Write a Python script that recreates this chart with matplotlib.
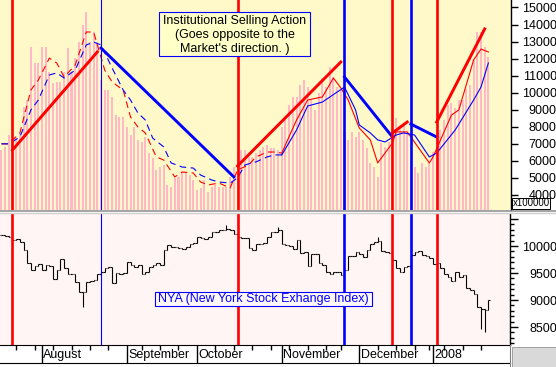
import numpy as np
import pandas as pd
import matplotlib
matplotlib.use("Agg")
import matplotlib.pyplot as plt
from matplotlib.lines import Line2D
from matplotlib.patches import Rectangle
import matplotlib.transforms as mtransforms

plt.rcParams['font.family'] = ['Liberation Sans', 'DejaVu Sans']

# trading days 17 Jul 2007 .. 24 Jan 2008
holidays = pd.to_datetime(["2007-09-03", "2007-11-22", "2007-12-25", "2008-01-01", "2008-01-21"])
dates = pd.bdate_range("2007-07-17", "2008-01-24")
dates = dates[~dates.isin(holidays)]
days = np.arange(len(dates))

# NYSE volume (x100000)
volume = [6640, 6815, 7520, 7050, 7340, 7640, 9160, 9570, 12680, 11740,
          11740, 12680, 12680, 11210, 10570, 10630, 10630, 11210, 12620, 11210,
          12030, 12970, 13970, 14730, 12970, 13560, 12970, 10740, 10160, 10160,
          9750, 8690, 8570, 8570, 7990, 7520, 7990, 7230, 7110, 7400,
          6460, 6170, 5470, 5640, 5760, 4590, 4470, 5000, 5060, 5350,
          5350, 5170, 4880, 4290, 4410, 4880, 4180, 4470, 4590, 4470,
          4470, 4470, 5060, 5640, 6520, 6640, 6640, 6230, 6230, 6460,
          6640, 6815, 6930, 6760, 6760, 6640, 7990, 8570, 9280, 9750,
          9750, 10450, 10740, 10330, 9570, 8990, 9980, 10860, 10330, 11510,
          10920, 10330, 10160, 7700, 7230, 7700, 7400, 7700, 7230, 6760,
          5880, 5640, 5060, 7050, 6820, 7110, 7640, 8510, 7990, 8110,
          7640, 6050, 5640, 5290, 5880, 5640, 5880, 6520, 7230, 7810,
          8400, 9280, 9400, 9100, 9570, 9570, 10220, 10450, 11920, 13560,
          13560, 12680, 12090]

# NYA closes
closes = [10200, 10185, 10167, 10110, 10130, 10075, 9925, 9685, 9555, 9630,
          9665, 9555, 9650, 9630, 9390, 9555, 9760, 9590, 9480, 9480,
          9333, 9150, 9150, 9333, 9350, 9370, 9480, 9520, 9590, 9610,
          9315, 9500, 9480, 9500, 9700, 9650, 9610, 9650, 9480, 9520,
          9610, 9650, 9685, 9650, 9925, 10020, 9980, 9980, 9963, 9944,
          9980, 10037, 10055, 10167, 10148, 10130, 10167, 10260, 10260, 10296,
          10296, 10315, 10296, 10222, 10167, 10148, 10148, 9963, 9925, 10037,
          10037, 10055, 10167, 10260, 10260, 10296, 10037, 10020, 10000, 9944,
          10111, 9870, 9890, 9630, 9850, 9850, 9685, 9650, 9520, 9480,
          9520, 9520, 9463, 9555, 9815, 9815, 9890, 9850, 9796, 9925,
          10037, 10075, 10093, 9907, 9890, 9870, 9740, 9590, 9520, 9610,
          9630, 9833, 9890, 9907, 9833, 9815, 9778, 9667, 9685, 9590,
          9480, 9426, 9352, 9520, 9426, 9463, 9222, 9185, 9111, 8870,
          8833, 8815, 9000]
wick_lows = {22: 8870, 130: 8463, 131: 8407}
wick_highs = {61: 10390, 75: 10350, 102: 10167}

# volume moving averages (read points)
red_days = [0, 2, 5, 8, 10, 13, 15, 17, 20, 23, 25, 28, 30, 33, 35, 37, 39, 42, 44, 47,
            49, 52, 54, 56, 59, 62, 64, 67, 69, 72, 74, 76, 80, 83, 87, 90, 92, 94,
            97, 100, 102, 106, 107, 110, 116, 117, 122, 124, 128, 130, 132]
red_ma = [7000, 7000, 7640, 10160, 10740, 12030, 11740, 10920, 11620, 13560, 13560,
          11330, 10630, 10160, 8570, 7990, 7640, 6230, 6050, 5060, 5350, 5290, 4760,
          4590, 4700, 4410, 5470, 5760, 6230, 6520, 6520, 6460, 8400, 9570, 9750,
          10860, 10280, 9570, 7930, 7230, 5880, 7050, 7700, 7700, 5880, 6230, 8690,
          8990, 11920, 12560, 12390]
blue_days = [0, 2, 5, 8, 10, 13, 15, 17, 20, 23, 25, 27, 30, 33, 35, 37, 39, 41, 44, 46,
             49, 52, 54, 57, 59, 62, 64, 66, 69, 72, 74, 76, 80, 83, 87, 93, 96, 97,
             100, 102, 104, 107, 109, 112, 116, 118, 123, 128, 130, 132]
blue_ma = [7000, 7000, 7400, 8990, 9570, 11040, 11160, 10860, 11330, 12800, 12970,
           12800, 11450, 10160, 9570, 8810, 8400, 7340, 6820, 5880, 5640, 5580, 5170,
           4880, 4760, 4700, 5000, 5760, 5940, 6230, 6350, 6350, 7810, 9220, 9450,
           10330, 8990, 8110, 7640, 7230, 7110, 7520, 7640, 7520, 6230, 6460, 7810,
           9570, 10330, 11740]

# trend lines: (start day, start value, end day, end value, colour)
trends = [(3, 6640, 26, 12390, 'red'), (27, 12620, 63, 5060, 'blue'),
          (64, 5700, 92, 11800, 'red'), (93, 10920, 106, 7400, 'blue'),
          (106, 7640, 110, 8280, 'red'), (111, 8160, 118, 7400, 'blue'),
          (118, 8280, 131, 13740, 'red')]
signal_days = [3, 27, 64, 93, 106, 111, 118]
signal_cols = ['red', 'blue', 'red', 'blue', 'red', 'blue', 'red']
signal_lw = [1.9, 0.8, 1.9, 1.9, 1.9, 1.9, 1.9]

month_labels = ["August", "September", "October", "November", "December", "2008"]

W, H = 556, 367
fig = plt.figure(figsize=(W / 100, H / 100), dpi=100)
fig.patch.set_facecolor('white')

def fx(px):
    return px / W

def fy(py):
    return 1 - py / H

ax1 = fig.add_axes([0, fy(210), fx(511), 210 / H])
ax2 = fig.add_axes([0, fy(345), fx(510), (345 - 214) / H])

# top panel: volume
ax1.set_facecolor('#fff8c8')
ax1.bar(days, volume, width=0.55, color='#ffb9c6', zorder=1)
cut = red_days.index(76)
ax1.plot(red_days[:cut + 1], red_ma[:cut + 1], color='red', lw=0.8, dashes=(6, 4), zorder=3)
ax1.plot(red_days[cut:], red_ma[cut:], color='red', lw=0.8, zorder=3)
cutb = blue_days.index(76)
ax1.plot(blue_days[:cutb + 1], blue_ma[:cutb + 1], color='blue', lw=0.8, dashes=(6, 4), zorder=3)
ax1.plot(blue_days[cutb:], blue_ma[cutb:], color='blue', lw=0.8, zorder=3)
for d0, v0, d1, v1, c in trends:
    ax1.plot([d0, d1], [v0, v1], color=c, lw=2.1, zorder=4)

for ax in (ax1, ax2):
    for d, c, lw in zip(signal_days, signal_cols, signal_lw):
        ax.axvline(d, color=c, lw=lw, zorder=5)
    for s in ('left', 'top', 'bottom'):
        ax.spines[s].set_visible(False)
    ax.spines['right'].set_color('black')
    ax.spines['right'].set_linewidth(1)
    ax.yaxis.tick_right()

ax1.set_xlim(-0.385, (511 - 1.42) / 3.689)
ax1.set_ylim(3120, 15437)
ax1.set_xticks([])
ax1.set_yticks(range(4000, 15001, 1000))
ax1.tick_params(axis='y', direction='out', length=5, width=1, labelsize=9, pad=28)
plt.setp(ax1.get_yticklabels(), ha='right')

# bottom panel: NYA bars
ax2.set_facecolor('#fff5f5')
opens = [closes[0]] + closes[:-1]
highs = [wick_highs.get(i, max(o, c)) for i, (o, c) in enumerate(zip(opens, closes))]
lows = [wick_lows.get(i, min(o, c)) for i, (o, c) in enumerate(zip(opens, closes))]
ax2.vlines(days, lows, highs, color='black', lw=0.8, zorder=3)
ax2.hlines(opens, days - 0.45, days, color='black', lw=0.8, zorder=3)
ax2.hlines(closes, days, days + 0.45, color='black', lw=0.8, zorder=3)

ax2.set_xlim(-0.385, (510 - 1.42) / 3.689)
ax2.set_ylim(8167, 10593)
ax2.set_yticks(range(8500, 10501, 500))
ax2.set_yticklabels(['8500', '9000', '9500', '10000', ''])
ax2.set_yticks(range(8200, 10600, 100), minor=True)
ax2.tick_params(axis='y', which='major', direction='out', length=6, width=1, labelsize=9, pad=28)
ax2.tick_params(axis='y', which='minor', direction='out', length=3, width=1)
plt.setp(ax2.get_yticklabels(), ha='right')

ax2.spines['bottom'].set_visible(True)
ax2.spines['bottom'].set_color('black')
month = dates.month.values
month_starts = [i for i in range(1, len(dates)) if month[i] != month[i - 1]]
wd = dates.weekday.values
week_starts = [i for i in range(1, len(dates)) if wd[i] < wd[i - 1] and i not in month_starts]
ax2.set_xticks(month_starts)
ax2.set_xticklabels([])
ax2.set_xticks(week_starts, minor=True)
ax2.tick_params(axis='x', which='major', direction='out', length=13, width=1)
ax2.tick_params(axis='x', which='minor', direction='out', length=3.5, width=1)
trans = mtransforms.blended_transform_factory(ax2.transData, ax2.transAxes)
for d, name in zip(month_starts, month_labels):
    ax2.text(d + 0.35, -0.078, name, transform=trans, ha='left', va='center',
             fontsize=9, clip_on=False)

# boxes and frame pieces, in figure pixels
def box(x0, y0, x1, y1, fc, ec, lw=1.0, z=6):
    fig.add_artist(Rectangle((fx(x0), fy(y1)), fx(x1) - fx(x0), (y1 - y0) / H,
                             transform=fig.transFigure, facecolor=fc, edgecolor=ec,
                             lw=lw, zorder=z))

def hline(y, x0, x1, c, lw=1.0):
    fig.add_artist(Line2D([fx(x0), fx(x1)], [fy(y), fy(y)], transform=fig.transFigure,
                          color=c, lw=lw, zorder=7))

box(159, 12, 310, 56, '#ffffc8', 'blue', 0.8)
fig.text(fx(234.5), fy(35), "Institutional Selling Action\n(Goes opposite to the\nMarket's direction. )",
         ha='center', va='center', fontsize=9, color='black', zorder=8, linespacing=1.2)

box(155, 292, 372, 306, '#fff8f8', 'blue', 0.8)
fig.text(fx(263.5), fy(299), "NYA (New York Stock Exhange Index)", ha='center', va='center',
         fontsize=9, color='blue', zorder=8)

box(512, 198, 550, 209, 'white', 'black', 0.7, z=8)
fig.text(fx(531), fy(203.5), "x100000", ha='center', va='center', fontsize=7, zorder=9)

hline(211, 0, 556, '#8c8c8c', 1.1)
hline(213, 0, 556, '#cfcfcf', 1.0)
hline(363, 0, 510, 'black', 0.8)
box(512, 347, 556, 368, '#d9d9d9', '#a0a0a0', 0.7)
fig.add_artist(Line2D([fx(510), fx(510)], [fy(345), fy(367)], transform=fig.transFigure,
                      color='#808080', lw=0.8, zorder=7))

fig.savefig("out.png", dpi=100, facecolor='white')
